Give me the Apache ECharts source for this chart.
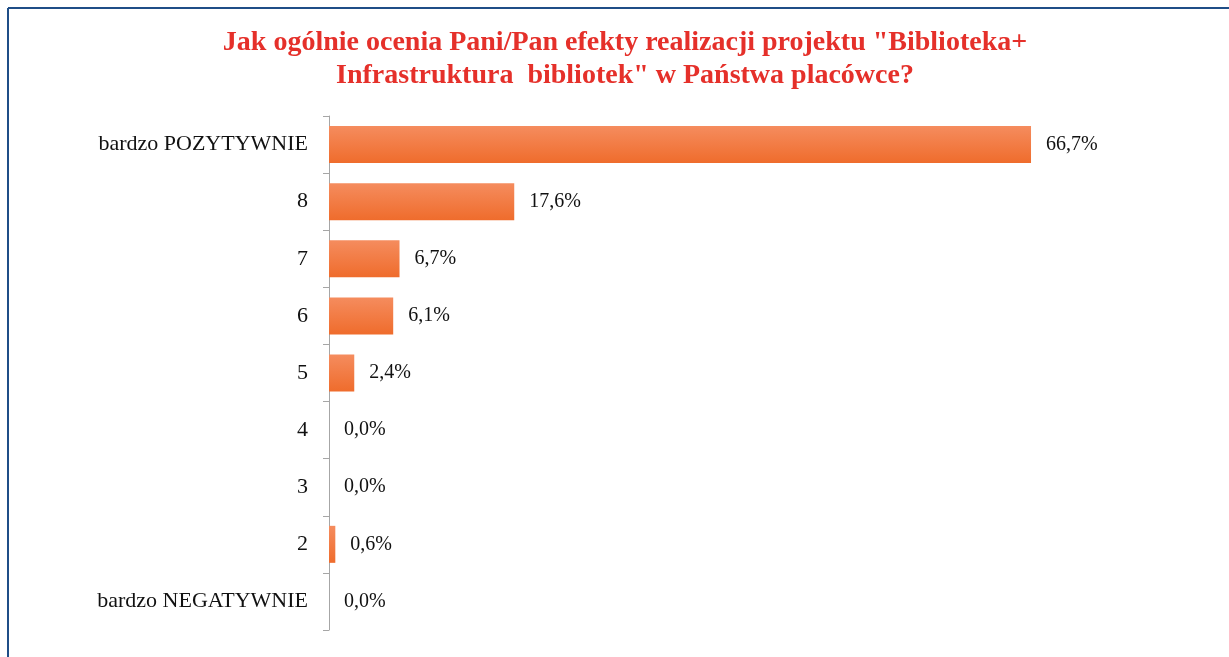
<!DOCTYPE html>
<html><head><meta charset="utf-8">
<script src="https://cdn.jsdelivr.net/npm/echarts@6/dist/echarts.min.js"></script>
<style>html,body{margin:0;padding:0;background:#fff}#c{width:1229px;height:657px}</style>
</head><body><div id="c"></div>
<script>
var categories = ['bardzo POZYTYWNIE','8','7','6','5','4','3','2','bardzo NEGATYWNIE'];
var values = [66.7, 17.6, 6.7, 6.1, 2.4, 0.0, 0.0, 0.6, 0.0];
var titleText = 'Jak ogólnie ocenia Pani/Pan efekty realizacji projektu "Biblioteka+\nInfrastruktura  bibliotek" w Państwa placówce?';
var font = "'Liberation Serif', 'DejaVu Serif', serif";
var chart = echarts.init(document.getElementById('c'));
chart.setOption({
  animation: false,
  title: {
    text: titleText, left: 620, top: 21, textAlign: 'center',
    textStyle: {fontFamily: font, fontSize: 28, fontWeight: 'bold', color: '#E5302A', lineHeight: 33}
  },
  graphic: [
    {type: 'line', shape: {x1: 8, y1: 8, x2: 1229, y2: 8}, style: {stroke: '#1F4E87', lineWidth: 2}},
    {type: 'line', shape: {x1: 8, y1: 8, x2: 8, y2: 657}, style: {stroke: '#1F4E87', lineWidth: 2}}
  ],
  grid: {left: 329, top: 116, width: 842, height: 514},
  xAxis: {type: 'value', min: 0, max: 80, show: false},
  yAxis: {
    type: 'category', data: categories, inverse: true,
    axisLine: {show: true, lineStyle: {color: '#A6A6A6', width: 1}},
    axisTick: {show: true, length: 6, lineStyle: {color: '#A6A6A6'}},
    axisLabel: {fontFamily: font, fontSize: 22, color: '#111', margin: 21}
  },
  series: [{
    type: 'bar', data: values, barWidth: 37,
    itemStyle: {
      color: new echarts.graphic.LinearGradient(0, 0, 0, 1, [
        {offset: 0, color: '#F58C5E'}, {offset: 1, color: '#EF6C2C'}])
    },
    label: {
      show: true, position: 'right', distance: 15,
      fontFamily: font, fontSize: 20, color: '#111',
      formatter: function(p){ return p.value.toFixed(1).replace('.', ',') + '%'; }
    }
  }]
});
</script></body></html>
